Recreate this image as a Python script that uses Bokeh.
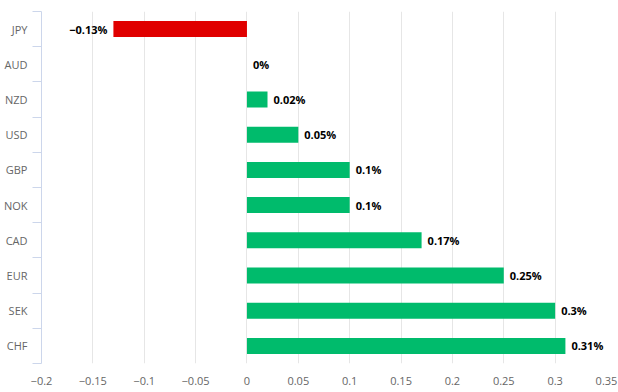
from bokeh.plotting import figure
from bokeh.models import Range1d, FixedTicker, CustomJSTickFormatter, ColumnDataSource
from bokeh.core.properties import value
from bokeh.embed import file_html
from bokeh.resources import INLINE

# ---- data ----
currencies = ["JPY", "AUD", "NZD", "USD", "GBP", "NOK", "CAD", "EUR", "SEK", "CHF"]
changes = [-0.13, 0.0, 0.02, 0.05, 0.1, 0.1, 0.17, 0.25, 0.3, 0.31]
x_ticks = [-0.2, -0.15, -0.1, -0.05, 0.0, 0.05, 0.1, 0.15, 0.2, 0.25, 0.3, 0.35]

RED = "#e00000"
GREEN = "#00bb6c"
FONT = "Open Sans"

def fmt(v):
    s = f"{abs(v):g}%"
    return ("\u2212" + s) if v < 0 else s

idx = list(range(len(currencies)))
colors = [RED if v < 0 else GREEN for v in changes]
labels = [fmt(v) for v in changes]

src = ColumnDataSource(dict(y=idx, v=changes, color=colors, label=labels))
neg = ColumnDataSource(dict(y=[i for i in idx if changes[i] < 0],
                            v=[v for v in changes if v < 0],
                            label=[labels[i] for i in idx if changes[i] < 0]))
pos = ColumnDataSource(dict(y=[i for i in idx if changes[i] >= 0],
                            v=[v for v in changes if v >= 0],
                            label=[labels[i] for i in idx if changes[i] >= 0]))

p = figure(width=618, height=392, output_backend="svg", toolbar_location=None,
           x_range=Range1d(x_ticks[0], x_ticks[-1]),
           y_range=Range1d(len(currencies) - 0.5, -0.5),
           min_border_left=39, min_border_right=12, min_border_top=11, min_border_bottom=29,
           x_axis_location="below", y_axis_location="left")
p.outline_line_color = None
p.background_fill_color = "white"
p.border_fill_color = "white"

p.hbar(y="y", left=0, right="v", height=0.455, color="color", source=src, line_color=None)

p.text(x="v", y="y", text="label", source=pos, x_offset=6, text_align="left",
       text_baseline="middle", text_font=value(FONT), text_font_style="bold",
       text_font_size="11px", text_color="#000000")
p.text(x="v", y="y", text="label", source=neg, x_offset=-6, text_align="right",
       text_baseline="middle", text_font=value(FONT), text_font_style="bold",
       text_font_size="11px", text_color="#000000")

# x axis
xa = p.xaxis[0]
xa.ticker = FixedTicker(ticks=x_ticks, minor_ticks=[])
xa.formatter = CustomJSTickFormatter(code="return (Math.round(tick*100)/100).toString().replace('-', '\u2212');")
xa.axis_line_color = None
xa.major_tick_line_color = None
xa.minor_tick_line_color = None
xa.major_label_standoff = 7
xa.major_label_text_font = FONT
xa.major_label_text_font_size = "11px"
xa.major_label_text_color = "#666666"

# y axis
ya = p.yaxis[0]
ya.ticker = FixedTicker(ticks=idx, minor_ticks=[i - 0.5 for i in range(len(currencies) + 1)])
ya.major_label_overrides = {i: c for i, c in zip(idx, currencies)}
ya.axis_line_color = "#ccd6eb"
ya.major_tick_line_color = None
ya.major_tick_out = 0
ya.major_tick_in = 0
ya.minor_tick_line_color = "#ccd6eb"
ya.minor_tick_out = 9
ya.minor_tick_in = 0
ya.major_label_standoff = 5
ya.major_label_text_font = FONT
ya.major_label_text_font_size = "11px"
ya.major_label_text_color = "#666666"

p.xgrid.grid_line_color = "#e6e6e6"
p.xgrid.ticker = FixedTicker(ticks=x_ticks)
p.ygrid.grid_line_color = None

open("out.html", "w").write(file_html(p, INLINE))
